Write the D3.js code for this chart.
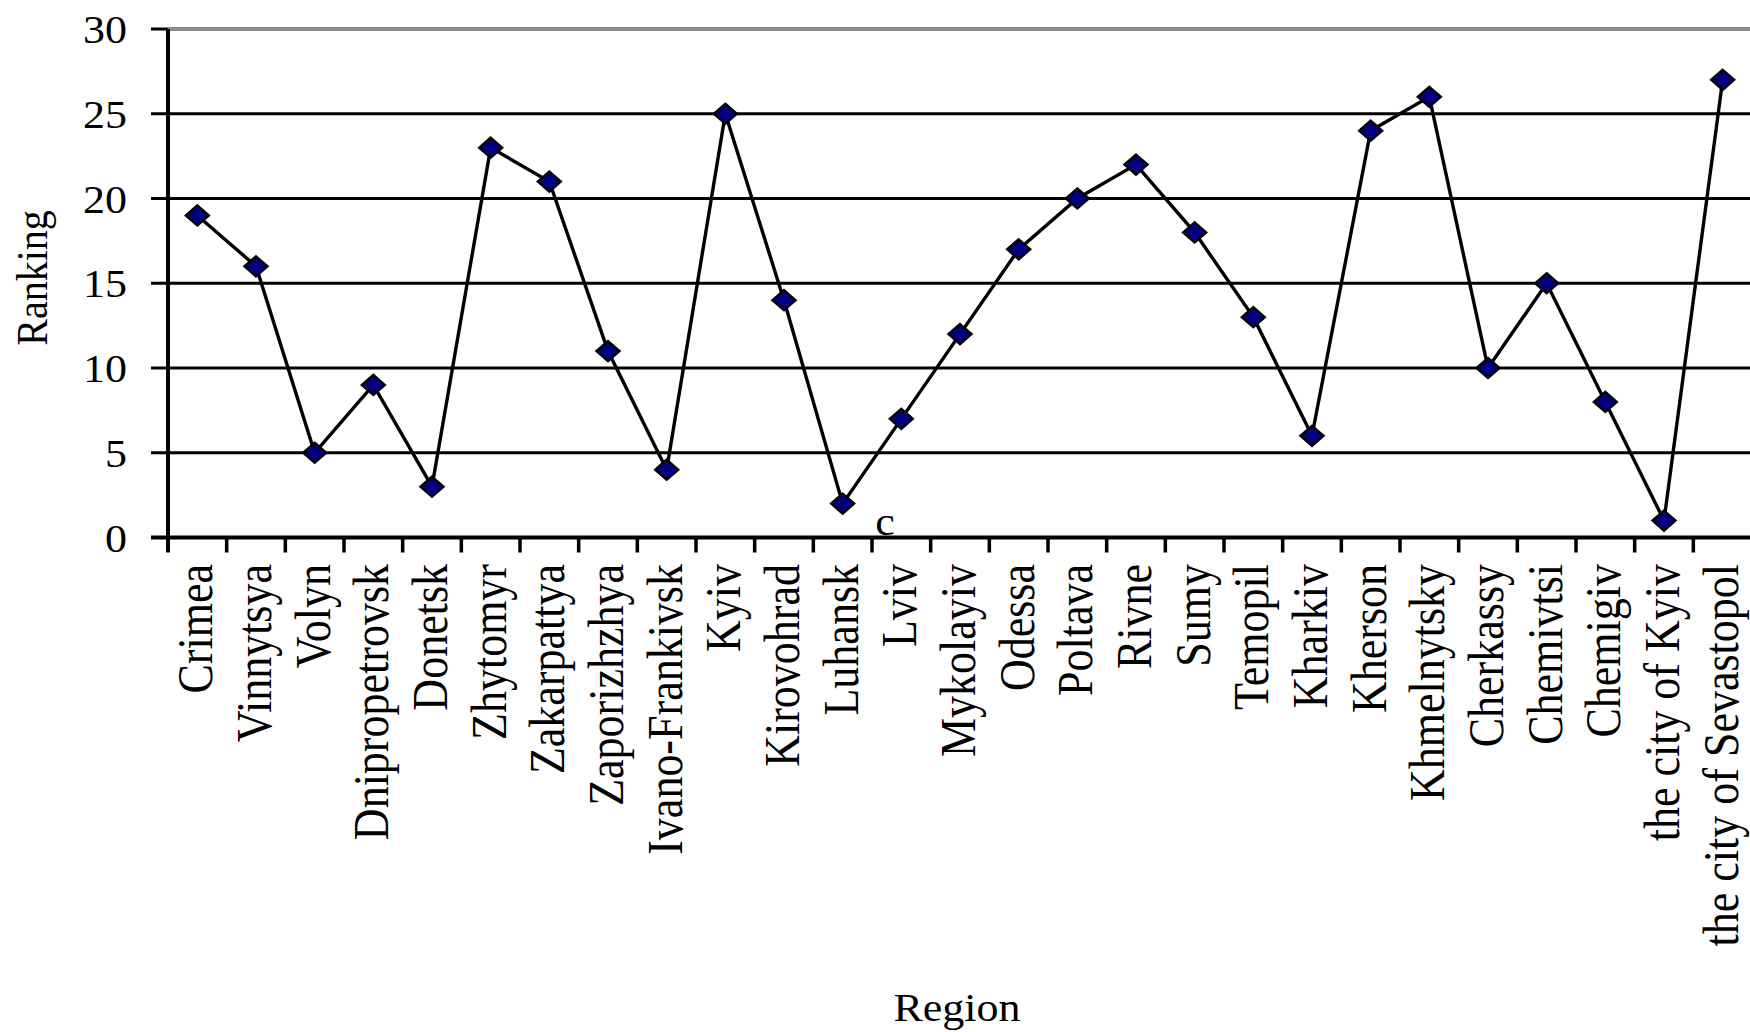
<!doctype html>
<html lang="en">
<head>
  <meta charset="utf-8">
  <title>Ranking by Region</title>
</head>

<style>
body {
	margin: 0;
	background: white;
}
text {
	font-family: "Liberation Serif", "Times New Roman", serif;
	fill: black;
}
</style>

<body>
  <script src="https://d3js.org/d3.v7.min.js"></script>
  <script>

	var regions = ["Crimea", "Vinnytsya", "Volyn", "Dnipropetrovsk", "Donetsk", "Zhytomyr",
		"Zakarpattya", "Zaporizhzhya", "Ivano-Frankivsk", "Kyiv", "Kirovohrad", "Luhansk",
		"Lviv", "Mykolayiv", "Odessa", "Poltava", "Rivne", "Sumy", "Temopil", "Kharkiv",
		"Kherson", "Khmelnytsky", "Cherkassy", "Chemivtsi", "Chemigiv", "the city of Kyiv",
		"the city of Sevastopol"];

	var ranking = [19, 16, 5, 9, 3, 23, 21, 11, 4, 25, 14, 2, 7, 12, 17, 20, 22, 18, 13, 6,
		24, 26, 10, 15, 8, 1, 27];

	var yTicks = [0, 5, 10, 15, 20, 25, 30];

	var svg = d3.select("body").append("svg")
		.attr("width", 1750)
		.attr("height", 1032);

	// plot runs slightly past the right edge, like the original
	// (no "top" here: window.top is read-only)
	var plotLeft = 168, plotRight = 1752, plotTop = 29, plotBottom = 537.5;

	var x = d3.scaleBand()
		.domain(regions)
		.range([plotLeft, plotRight])
		.padding(0);

	var y = d3.scaleLinear()
		.domain([0, 30])
		.range([plotBottom, plotTop]);

	// text in the source is a little wider than it is tall
	var stretch = 1.1;

	// Gridlines
	svg.selectAll(".grid")
		.data(yTicks.filter(function (d) { return d > 0; }))
		.join("line")
		.classed("grid", true)
		.attr("x1", plotLeft - 17)
		.attr("x2", 1750)
		.attr("y1", function (d) { return y(d); })
		.attr("y2", function (d) { return y(d); })
		.attr("stroke", "black")
		.attr("stroke-width", 3);

	// top line is grey inside the plot
	svg.append("line")
		.attr("x1", plotLeft)
		.attr("x2", 1750)
		.attr("y1", y(30))
		.attr("y2", y(30))
		.attr("stroke", "#8c8c8c")
		.attr("stroke-width", 3);

	// Y tick labels
	svg.selectAll(".ylab")
		.data(yTicks)
		.join("text")
		.classed("ylab", true)
		.attr("transform", function (d) {
			return "translate(127," + (y(d) + 14) + ") scale(" + stretch + ",1)";
		})
		.attr("text-anchor", "end")
		.attr("font-size", 40)
		.text(function (d) { return d; });

	// Axes
	svg.append("line")
		.attr("x1", plotLeft).attr("x2", plotLeft)
		.attr("y1", plotTop).attr("y2", plotBottom + 15)
		.attr("stroke", "black")
		.attr("stroke-width", 4);

	svg.append("line")
		.attr("x1", plotLeft - 17).attr("x2", 1750)
		.attr("y1", plotBottom).attr("y2", plotBottom)
		.attr("stroke", "black")
		.attr("stroke-width", 4);

	// x ticks sit between categories
	svg.selectAll(".xtick")
		.data(regions.slice(1))
		.join("line")
		.classed("xtick", true)
		.attr("x1", function (d) { return x(d); })
		.attr("x2", function (d) { return x(d); })
		.attr("y1", plotBottom)
		.attr("y2", plotBottom + 15)
		.attr("stroke", "black")
		.attr("stroke-width", 3.5);

	// Category labels, rotated
	svg.selectAll(".xlab")
		.data(regions)
		.join("text")
		.classed("xlab", true)
		.attr("transform", function (d) {
			return "translate(" + (x(d) + x.bandwidth() / 2 + 15) + "," + 564 + ") rotate(-90) scale(1,1.13)";
		})
		.attr("text-anchor", "end")
		.attr("font-size", 44)
		.text(function (d) { return d; });

	// Ranking line
	var line = d3.line()
		.x(function (d, i) { return x(regions[i]) + x.bandwidth() / 2; })
		.y(function (d) { return y(d); });

	svg.append("path")
		.datum(ranking)
		.attr("d", line)
		.attr("fill", "none")
		.attr("stroke", "black")
		.attr("stroke-width", 3.4);

	// Diamond markers
	svg.selectAll(".marker")
		.data(ranking)
		.join("path")
		.classed("marker", true)
		.attr("transform", function (d, i) {
			return "translate(" + (x(regions[i]) + x.bandwidth() / 2) + "," + y(d) + ")";
		})
		.attr("d", "M0,-10 L11.5,0 L0,10 L-11.5,0 Z")
		.attr("fill", "#000080")
		.attr("stroke", "black")
		.attr("stroke-width", 2.4);

	// stray "c" next to the Lviv tick
	svg.append("text")
		.attr("transform", "translate(" + (x("Lviv") + 13) + "," + (plotBottom - 3) + ") scale(" + stretch + ",1)")
		.attr("text-anchor", "middle")
		.attr("font-size", 40)
		.text("c");

	// Axis titles
	svg.append("text")
		.attr("transform", "translate(47,278) rotate(-90) scale(1,1.13)")
		.attr("text-anchor", "middle")
		.attr("font-size", 40)
		.text("Ranking");

	svg.append("text")
		.attr("transform", "translate(957,1021) scale(" + stretch + ",1)")
		.attr("text-anchor", "middle")
		.attr("font-size", 40)
		.text("Region");

  </script>
</body>
</html>
